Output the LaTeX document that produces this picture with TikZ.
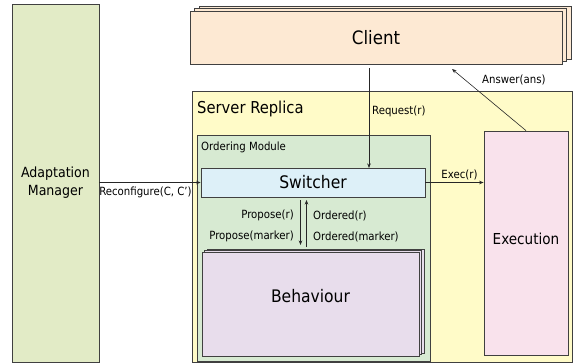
\documentclass[tikz,border=0pt]{standalone}
\usepackage{fontspec}
\setmainfont{DejaVu Sans Condensed}
\usetikzlibrary{arrows.meta}
\definecolor{amfill}{RGB}{226,235,198}
\definecolor{clfill}{RGB}{253,233,211}
\definecolor{srfill}{RGB}{255,251,200}
\definecolor{omfill}{RGB}{215,234,210}
\definecolor{swfill}{RGB}{221,240,248}
\definecolor{befill}{RGB}{232,221,236}
\definecolor{exfill}{RGB}{249,226,236}
\definecolor{edge}{RGB}{64,64,64}
\tikzset{
  box/.style={draw=edge, line width=0.8pt, minimum width=#1, inner sep=0pt},
  lbl/.style={inner sep=0pt, font=\fontsize{11.3}{14}\selectfont},
  conn/.style={draw=black!85, line width=0.6pt, -{Stealth[length=4.5pt,width=3.5pt]}},
  plain/.style={draw=black!85, line width=0.6pt}
}
\begin{document}
\begin{tikzpicture}[x=1pt,y=-1pt]
\useasboundingbox (0,0) rectangle (574,364);
% Adaptation Manager
\node[box=87pt, minimum height=358pt, fill=amfill, align=center,
  font=\fontsize{14}{18}\selectfont] (am) at (55.5,183) {Adaptation\\Manager};
% Client stack
\node[box=372pt, minimum height=53pt, fill=clfill] (cl3) at (385,32.5) {};
\node[box=372pt, minimum height=53pt, fill=clfill] (cl2) at (380.5,35) {};
\node[box=372pt, minimum height=53pt, fill=clfill, font=\fontsize{18.5}{22}\selectfont] (cl) at (376,37.5) {Client};
% Server replica
\node[box=380pt, minimum height=271pt, fill=srfill] (sr) at (382,226.5) {};
\node[inner sep=0pt, anchor=west, font=\fontsize{16.4}{20}\selectfont] (srl) at (197,108.5) {Server Replica};
% Ordering module
\node[box=233pt, minimum height=226pt, fill=omfill] (om) at (313.5,248) {};
\node[lbl, anchor=west] (oml) at (201,147.5) {Ordering Module};
% Switcher
\node[box=224pt, minimum height=29pt, fill=swfill, font=\fontsize{17.3}{20}\selectfont] (sw) at (313,182.5) {Switcher};
% Behaviour stack
\node[box=217pt, minimum height=104pt, fill=befill] (be3) at (315.5,301) {};
\node[box=217pt, minimum height=104pt, fill=befill] (be2) at (313,302.5) {};
\node[box=217pt, minimum height=104pt, fill=befill] (be) at (310.5,304) {};
\node[inner sep=0pt, font=\fontsize{17.3}{20}\selectfont] (bel) at (310.5,296) {Behaviour};
% Execution
\node[box=84pt, minimum height=224pt, fill=exfill] (ex) at (526,243) {};
\node[inner sep=0pt, font=\fontsize{15.1}{18}\selectfont] (exl) at (526,239) {Execution};
% Connectors
\coordinate (reqtop) at (369,68);
\coordinate (reqend) at (369,168);
\draw[conn] (reqtop) -- (reqend);
\node[lbl, anchor=west] (reql) at (372,111.5) {Request(r)};
\coordinate (ansend) at (452,69);
\draw[conn] (ex.north) -- (ansend);
\node[lbl, anchor=west] (ansl) at (482,79.5) {Answer(ans)};
\draw[conn] (am.east |- sw.west) -- (sw.west);
\node[lbl] (recl) at (145.5,192.5) {Reconfigure(C, C')};
\draw[conn] (sw.east) -- (ex.west |- sw.east);
\node[lbl] (exel) at (459.5,174.5) {Exec(r)};
\coordinate (dtop) at (300.5,200);
\coordinate (dbot) at (300.5,245);
\draw[conn] (dtop) -- (dbot);
\coordinate (utop) at (306.5,200);
\coordinate (ubot) at (306.5,247);
\draw[conn] (ubot) -- (utop);
\node[lbl, anchor=east] (p1) at (294,215.5) {Propose(r)};
\node[lbl, anchor=east] (p2) at (294,236.5) {Propose(marker)};
\node[lbl, anchor=west] (o1) at (313,215.5) {Ordered(r)};
\node[lbl, anchor=west] (o2) at (313,236.5) {Ordered(marker)};
\end{tikzpicture}
\end{document}
